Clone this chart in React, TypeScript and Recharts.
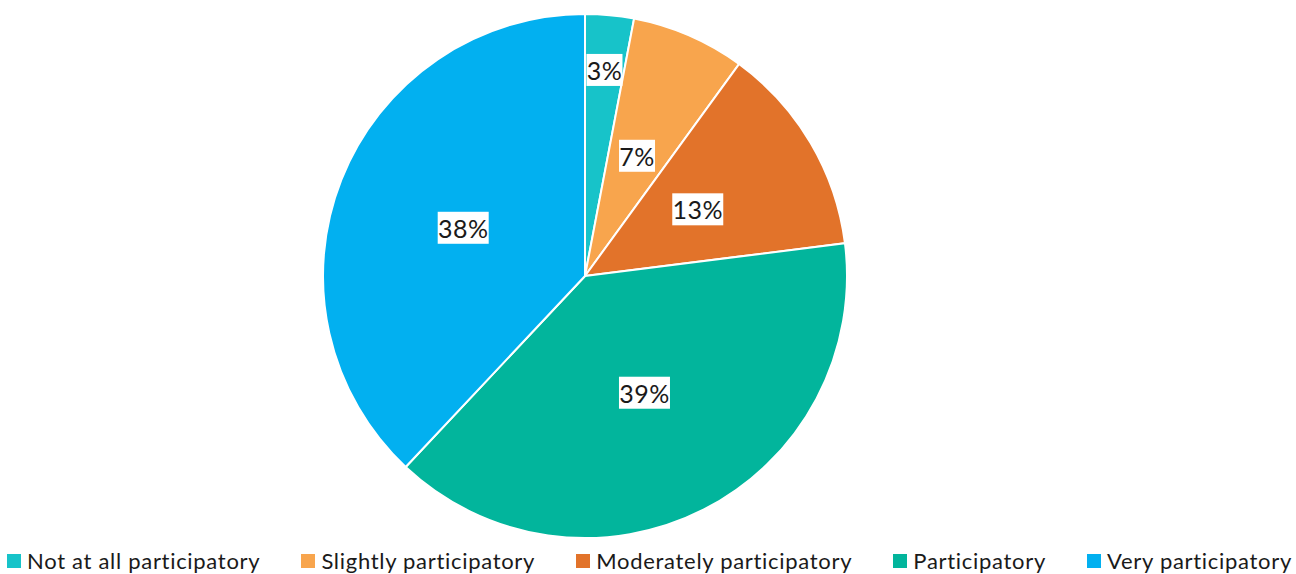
import { Cell, Legend, Pie, PieChart } from "recharts";

const categories = [
  "Not at all participatory",
  "Slightly participatory",
  "Moderately participatory",
  "Participatory",
  "Very participatory",
];
const shares = [3, 7, 13, 39, 38];
const colors = ["#17C3C9", "#F8A54D", "#E2732A", "#02B59C", "#02B0F0"];

const data = categories.map((name, i) => ({ name, value: shares[i] }));

const RADIAN = Math.PI / 180;

function renderLabel(props: any) {
  const { cx, cy, midAngle, outerRadius, percent, value } = props;
  // small slices get pushed out toward the rim, like Excel does
  const r = percent < 0.05 ? outerRadius * 0.79 : outerRadius * 0.5;
  const x = cx + r * Math.cos(-midAngle * RADIAN);
  const y = cy + r * Math.sin(-midAngle * RADIAN);
  const text = `${value}%`;
  const w = text.length * 15 + 6;
  return (
    <g>
      <rect x={x - w / 2} y={y - 16} width={w} height={32} fill="#fff" />
      <text x={x} y={y} textAnchor="middle" dominantBaseline="central" fontSize={25} letterSpacing={0.5} fill="#1a1a1a" fontFamily="Lato">
        {text}
      </text>
    </g>
  );
}

function LegendContent() {
  return (
    <div style={{ display: "flex", justifyContent: "space-between", padding: "0 4px 0 7px", fontFamily: "Lato", fontSize: 22, letterSpacing: 0.7, color: "#1a1a1a" }}>
      {categories.map((c, i) => (
        <div key={c} style={{ display: "flex", alignItems: "center", whiteSpace: "nowrap" }}>
          <span style={{ display: "inline-block", width: 14, height: 14, background: colors[i], marginRight: 6 }} />
          {c}
        </div>
      ))}
    </div>
  );
}

export default function App() {
  return (
    <div style={{ position: "absolute", left: 0, top: 0, width: 1296, height: 574, background: "#fff" }}>
      <PieChart width={1296} height={574} margin={{ top: 0, right: 0, bottom: 0, left: 0 }}>
        <Pie
          data={data}
          dataKey="value"
          nameKey="name"
          cx={585}
          cy={276}
          outerRadius={262}
          startAngle={90}
          endAngle={-270}
          stroke="#fff"
          strokeWidth={2}
          label={renderLabel}
          labelLine={false}
          isAnimationActive={false}
        >
          {data.map((d, i) => (
            <Cell key={d.name} fill={colors[i]} />
          ))}
        </Pie>
        <Legend
          content={<LegendContent />}
          wrapperStyle={{ left: 0, top: 547, width: 1296, height: 30 }}
        />
      </PieChart>
    </div>
  );
}
